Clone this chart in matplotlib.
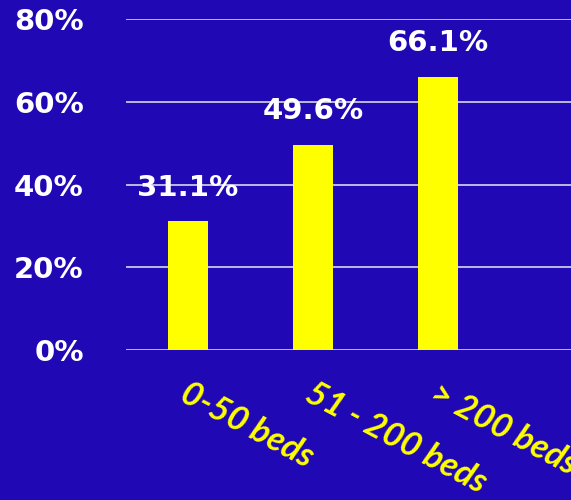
import matplotlib.pyplot as plt
from matplotlib.ticker import FuncFormatter

categories = ["0-50 beds", "51 - 200 beds", "> 200 beds"]
values = [31.1, 49.6, 66.1]
yticks = [0, 20, 40, 60, 80]

bg = '#2008B4'

fig = plt.figure(figsize=(5.71, 5.0), dpi=100)
fig.patch.set_facecolor(bg)
ax = fig.add_axes([125.5 / 571, 0.30, 1 - 125.5 / 571, 0.662])
ax.set_facecolor(bg)

x = list(range(len(categories)))
ax.bar(x, values, width=0.32, color='#FFFF00', zorder=3)

for xi, v in zip(x, values):
    ax.annotate(f"{v:.1f}%", (xi, v), xytext=(0, 24), textcoords='offset points',
                ha='center', va='center', color='white', fontsize=21,
                fontweight='bold', zorder=4)

ax.set_ylim(0, 80)
ax.set_xlim(-0.5, 3.064)
ax.set_yticks(yticks)
ax.yaxis.set_major_formatter(FuncFormatter(lambda v, p: f"{v:.0f}%"))
ax.grid(axis='y', color='#C8C8E0', linewidth=1.3, zorder=0)
ax.tick_params(axis='y', length=0, pad=30, labelsize=21, labelcolor='white')
for lab in ax.get_yticklabels():
    lab.set_fontweight('bold')

ax.set_xticks([])
for xi, c in zip(x, categories):
    ax.text(xi + 0.02, -6.5, c, rotation=-28, rotation_mode='anchor',
            ha='left', va='top', color='#FFFF00', fontsize=24.5,
            fontweight='bold', fontstyle='italic', family='Lato',
            transform=ax.transData, clip_on=False)

for s in ax.spines.values():
    s.set_visible(False)

fig.savefig('out.png', dpi=100, facecolor=bg)
